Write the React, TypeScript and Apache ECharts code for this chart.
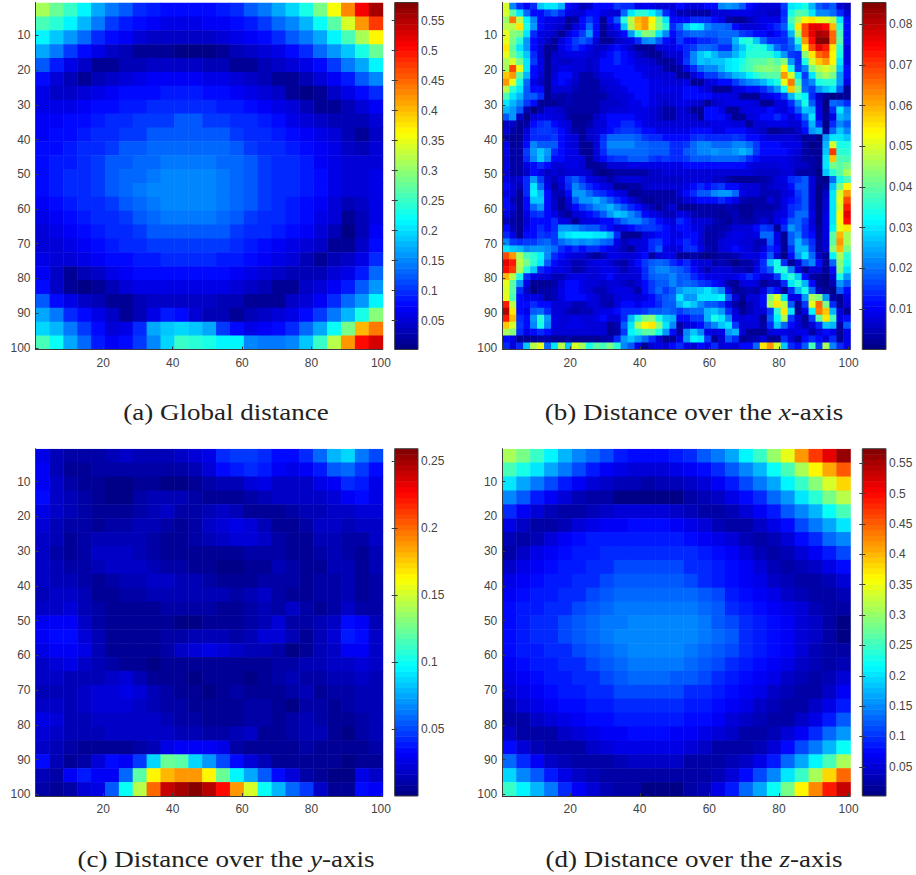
import React, { useEffect, useRef } from "react";
import * as echarts from "echarts";

const xTicks = [20,40,60,80,100];
const yTicks = [10,20,30,40,50,60,70,80,90,100];

// (a) global distance, unit 0.01, rows top to bottom
const globalDistance = [
[31,28,25,21,17,14,12,10,9,8,8,8,8,9,10,12,14,17,20,23,29,36,43,51,56],
[26,24,21,18,14,11,9,8,7,6,6,6,7,7,8,9,11,13,15,18,22,27,34,42,48],
[21,19,16,13,10,8,7,5,4,4,4,4,4,5,6,7,8,10,12,14,17,21,26,31,37],
[17,14,11,8,6,4,3,2,2,2,1,1,1,2,3,4,5,6,8,10,13,16,19,23,28],
[12,9,6,4,2,2,3,3,4,4,4,4,3,3,2,2,3,4,5,6,8,11,14,17,21],
[8,5,3,2,3,4,5,6,7,7,7,7,6,6,5,4,3,2,2,3,5,7,9,12,15],
[6,4,4,5,6,7,8,8,8,9,9,9,8,8,7,6,5,4,2,1,2,4,6,8,10],
[6,6,6,7,8,8,9,9,10,10,10,10,10,9,9,8,7,6,5,3,2,2,3,5,7],
[7,7,8,8,9,10,10,11,11,11,12,12,11,11,10,10,9,8,6,5,4,3,3,3,5],
[7,8,8,9,10,10,11,11,12,12,12,12,12,12,11,10,10,9,8,7,6,5,3,2,4],
[8,8,9,10,10,11,12,12,13,13,13,13,13,13,12,11,10,10,9,8,7,6,4,3,5],
[8,9,9,10,11,12,12,13,13,14,14,14,14,13,13,12,11,10,10,9,7,6,5,5,5],
[8,9,10,10,11,12,13,13,14,15,15,15,15,14,13,12,11,10,10,9,8,6,5,5,6],
[8,9,10,10,11,12,13,14,15,15,15,15,15,14,13,12,11,10,10,9,8,6,5,5,6],
[7,8,9,10,10,11,12,13,14,15,15,15,15,14,13,12,11,10,9,8,7,5,3,4,6],
[6,7,8,9,10,10,11,12,13,14,14,14,14,13,12,11,10,10,9,8,6,5,2,3,6],
[5,6,7,8,9,10,10,11,12,12,12,12,12,12,11,10,10,9,8,7,5,3,1,3,7],
[5,5,6,7,8,9,10,10,11,11,11,11,11,11,10,9,8,7,6,5,4,2,2,4,8],
[6,5,5,6,7,8,8,9,9,10,10,10,10,9,9,8,7,6,5,3,2,3,4,6,10],
[7,4,2,3,4,6,7,8,8,8,8,8,8,8,7,6,5,4,3,3,3,5,6,9,13],
[8,4,2,1,2,3,5,6,6,6,6,6,6,6,5,4,3,2,2,4,5,7,9,12,16],
[12,8,6,4,3,2,2,3,4,4,4,4,4,3,3,2,2,2,4,5,7,10,13,16,21],
[17,14,10,8,6,4,2,3,6,9,8,5,3,3,2,3,4,5,6,8,11,14,18,23,30],
[20,18,14,11,8,5,6,10,17,19,20,19,17,11,8,6,7,8,10,13,17,22,29,40,44],
[26,22,17,13,9,7,8,11,15,20,25,24,23,21,21,15,14,14,15,19,25,32,42,50,53],
];

// (b) distance over the x-axis, unit 0.001, one block per image quadrant
const xDistanceTopLeft = [
[50,22,14,10,14,28,30,30,26,11,9,5,6,11,11,12,16,14,14,9,10,9,8,7,7],
[50,40,30,20,12,11,16,18,14,9,8,8,12,12,9,8,8,20,30,35,35,32,26,14,9],
[45,65,48,32,22,11,9,9,8,2,3,12,16,11,2,11,18,36,48,60,62,54,42,30,12],
[48,48,56,34,24,11,9,8,6,2,8,12,20,11,2,8,11,28,46,58,62,52,44,36,14],
[52,44,42,30,14,9,8,6,2,7,11,16,24,11,2,6,8,12,24,36,44,42,30,22,11],
[52,42,36,24,11,9,6,2,8,12,16,18,16,8,2,2,6,7,9,14,22,24,18,11,9],
[55,40,30,24,11,8,2,2,9,12,14,12,9,6,6,9,12,9,6,2,2,2,8,9,9],
[52,42,36,28,14,8,2,6,8,9,9,9,7,6,9,12,14,12,9,6,3,2,2,6,8],
[46,50,42,30,16,9,2,7,6,6,7,7,6,7,11,12,14,12,10,8,7,6,4,2,3],
[46,68,52,30,12,9,2,6,9,9,8,7,6,7,11,11,12,12,11,9,9,8,7,4,2],
[58,62,40,26,11,8,2,8,11,11,7,4,4,6,9,9,11,12,11,11,9,8,8,7,7],
[62,52,34,20,9,6,2,9,11,9,6,4,4,4,8,8,9,11,11,11,11,9,9,8,8],
[48,36,30,18,12,11,2,8,8,7,5,4,4,4,6,7,8,9,11,12,11,9,9,9,9],
[38,30,26,18,18,14,2,5,4,5,4,4,4,4,4,6,7,8,9,11,11,9,8,8,8],
[30,26,22,16,11,2,2,2,4,5,4,3,4,4,6,6,6,7,9,9,11,9,7,6,7],
[26,24,18,5,1,4,7,8,6,4,4,4,4,4,6,7,7,8,9,9,9,8,6,4,4],
[18,24,6,1,8,9,9,8,7,4,2,2,2,6,9,11,11,11,11,9,9,8,6,4,4],
[6,6,2,3,11,14,16,12,9,7,2,2,4,7,8,11,12,14,14,11,9,8,7,7,7],
[7,4,2,8,14,16,16,14,11,8,3,2,6,7,9,11,14,16,16,14,12,11,9,9,9],
[4,2,2,9,14,14,14,16,12,9,7,2,6,8,14,20,20,20,20,18,16,14,14,12,11],
[9,2,3,12,22,18,18,18,12,9,8,2,2,8,16,22,22,22,22,20,20,18,18,18,14],
[9,4,3,16,24,28,24,14,12,9,9,2,2,8,14,20,20,20,20,20,20,18,18,18,14],
[8,3,3,14,22,28,22,11,11,9,9,7,2,7,11,14,16,16,18,18,18,16,14,16,14],
[9,3,3,9,12,14,11,7,8,9,9,8,2,2,3,7,8,8,9,9,9,9,9,9,9],
[8,3,3,6,12,9,6,7,6,8,8,7,6,2,1,2,4,4,4,4,4,6,6,7,7],
];
const xDistanceTopRight = [
[11,9,8,9,11,12,22,24,22,18,12,9,8,7,7,16,30,32,34,26,18,16,18,8,5],
[5,5,3,3,3,7,8,8,9,9,9,8,7,6,6,14,34,40,38,30,22,22,20,14,8],
[11,12,14,14,14,12,9,4,2,2,5,8,9,9,9,16,38,46,54,56,52,50,48,30,11],
[20,28,32,30,22,20,20,18,11,7,7,8,9,11,14,18,34,56,68,76,76,74,60,36,12],
[16,18,20,20,18,18,20,20,20,16,14,12,11,9,11,14,26,46,68,76,82,80,66,38,12],
[16,12,12,14,14,16,18,18,26,34,36,28,20,14,14,14,20,36,62,74,84,84,66,40,11],
[12,14,16,20,20,18,14,14,24,28,34,36,34,28,20,16,18,26,54,68,76,72,56,36,9],
[8,14,22,28,30,26,22,22,26,30,36,36,36,36,30,24,16,14,44,56,66,68,54,34,9],
[7,16,22,28,26,28,28,30,32,34,38,40,40,42,40,44,24,14,34,50,58,62,54,30,9],
[3,9,14,20,22,22,26,30,32,36,38,42,44,44,42,54,34,16,22,42,48,50,48,28,11],
[2,2,7,12,16,16,20,22,26,28,32,36,38,40,40,62,50,30,16,30,42,46,42,24,11],
[8,9,2,2,8,9,11,12,16,20,22,24,26,30,34,52,64,38,18,22,34,36,36,24,9],
[9,12,12,9,7,2,2,2,7,9,11,12,14,18,24,34,58,44,20,16,24,28,30,18,2],
[9,11,11,11,11,9,9,9,8,2,2,2,8,9,11,16,26,36,32,14,6,2,1,2,2],
[9,9,7,6,2,6,7,9,9,9,9,8,2,2,7,9,14,24,34,18,8,1,20,18,14],
[8,6,2,2,11,12,9,2,2,8,9,9,9,11,9,7,11,18,28,26,9,1,14,30,22],
[7,7,6,2,11,12,11,7,2,2,7,9,11,12,14,12,8,12,20,30,9,2,9,26,24],
[8,8,7,7,8,9,9,9,8,7,2,7,8,9,9,9,7,8,14,26,14,1,14,22,18],
[9,9,11,11,11,9,9,11,11,11,9,7,6,2,2,3,4,6,11,24,26,2,20,28,22],
[11,11,14,16,14,14,14,14,16,14,12,11,9,8,7,7,8,6,2,3,1,24,30,30,28],
[14,16,20,22,22,20,20,20,22,22,20,16,12,11,11,9,9,9,4,1,2,26,50,34,34],
[14,18,20,22,22,24,22,22,24,26,24,16,12,11,12,11,9,8,4,2,2,28,70,36,36],
[14,16,18,18,18,20,20,20,20,18,14,11,9,9,9,9,8,6,4,4,2,30,58,38,38],
[9,11,11,12,12,12,12,12,12,11,9,8,7,7,8,9,8,6,6,4,2,30,42,40,42],
[7,8,8,8,8,7,7,7,7,7,7,6,6,6,6,8,7,4,4,3,1,28,36,40,46],
];
const xDistanceBottomLeft = [
[9,6,8,14,24,16,8,5,9,16,18,14,9,8,6,4,6,8,8,7,6,6,6,6,6],
[11,8,5,14,30,20,9,2,7,14,22,18,14,11,9,7,2,2,3,4,6,7,7,8,7],
[9,7,2,14,32,26,11,5,5,11,24,24,20,16,14,12,9,7,2,2,3,4,4,4,4],
[11,5,2,12,28,28,12,6,2,8,18,24,24,26,22,18,14,11,8,5,2,2,3,4,4],
[12,7,2,11,20,24,12,6,2,6,11,16,18,22,24,26,22,18,14,11,8,5,2,5,8],
[9,5,2,9,14,16,12,9,5,2,8,9,11,14,18,24,28,26,22,18,12,9,7,5,5],
[5,3,2,8,11,12,11,14,9,7,2,8,9,9,11,12,16,20,22,22,18,16,11,9,8],
[11,5,2,9,12,14,12,14,24,24,22,20,18,18,14,11,8,9,11,14,16,16,14,11,9],
[14,9,2,11,12,16,14,16,28,30,32,32,32,30,30,26,14,2,2,2,7,9,11,11,9],
[22,16,14,16,16,18,20,16,20,22,24,22,24,22,20,18,9,5,8,8,9,14,16,12,9],
[30,28,26,22,24,24,22,20,14,12,14,12,14,14,12,9,7,5,2,7,9,14,18,9,8],
[68,62,46,38,36,32,22,14,11,9,7,7,5,2,5,9,9,7,7,9,11,4,8,9,9],
[76,72,48,42,36,30,18,12,9,8,5,5,8,9,9,7,5,3,8,11,16,18,20,18,14],
[74,70,46,36,28,14,11,9,9,7,3,5,7,7,9,9,8,5,7,9,14,20,22,22,20],
[60,48,34,14,9,8,7,5,5,8,9,9,8,7,9,11,8,7,7,8,14,18,20,20,22],
[52,40,24,9,2,2,2,4,7,11,11,9,8,7,6,8,8,6,5,7,12,16,18,18,22],
[50,40,14,6,1,3,3,5,9,12,11,9,8,5,5,8,9,9,7,3,11,16,20,16,18],
[52,38,11,9,9,7,3,5,9,11,11,11,9,8,5,5,8,9,9,8,9,12,16,18,20],
[72,48,11,11,14,12,11,7,8,7,5,5,7,7,5,3,8,11,11,9,11,12,14,18,18],
[80,56,12,9,18,20,14,8,7,5,3,5,5,7,9,9,11,14,14,14,16,18,18,20,18],
[72,60,14,11,24,36,24,9,8,8,9,8,7,9,11,8,8,14,26,36,42,44,34,28,26],
[58,50,16,12,22,34,22,9,8,9,9,9,8,8,7,2,5,18,30,46,54,56,44,30,22],
[46,44,14,9,11,14,11,8,7,7,7,7,8,7,7,2,3,16,32,36,40,40,34,24,11],
[12,9,2,2,2,3,3,2,2,3,2,2,2,2,3,5,14,24,28,24,20,14,8,2,2],
[14,7,14,28,48,52,20,30,48,28,50,46,34,40,38,42,36,22,18,9,2,8,9,8,11],
];
const xDistanceBottomRight = [
[6,7,8,8,7,6,6,4,2,2,2,2,3,5,7,9,14,16,18,8,2,1,20,34,38],
[7,9,12,14,12,14,16,12,11,7,7,7,5,6,7,8,12,18,18,8,1,4,28,42,54],
[8,11,14,18,18,22,24,24,20,9,8,7,5,5,5,7,9,16,18,7,1,6,30,50,62],
[5,8,9,11,12,12,14,12,9,5,3,3,3,7,5,9,11,14,18,7,1,8,30,52,68],
[2,2,2,3,3,4,4,5,3,2,2,3,3,4,5,9,14,16,18,7,1,8,30,50,72],
[9,8,5,3,3,4,2,4,5,2,2,5,5,5,7,9,14,20,20,9,1,9,30,54,76],
[14,11,8,7,7,5,3,2,5,3,3,5,7,5,9,12,18,20,16,8,1,9,30,54,74],
[11,12,9,7,5,3,3,5,8,8,7,11,16,14,2,14,24,20,14,9,2,9,32,52,55],
[9,11,11,8,3,3,5,7,9,9,8,9,20,20,9,2,18,22,14,11,2,9,40,60,46],
[12,14,12,8,3,3,7,9,9,8,7,5,5,18,9,2,18,26,20,14,4,8,40,62,46],
[9,14,14,9,5,3,7,9,11,9,7,5,8,14,12,2,14,26,26,16,4,7,44,60,42],
[2,2,3,2,1,2,3,3,5,8,9,7,11,18,8,1,12,24,30,20,6,2,32,46,36],
[11,14,9,8,7,3,5,3,1,3,3,7,14,28,34,14,2,8,18,22,12,2,20,44,34],
[18,16,11,8,5,7,8,8,5,5,3,9,14,18,34,36,22,9,2,8,8,2,12,42,30],
[18,18,14,11,9,9,9,8,9,11,14,11,8,8,16,30,36,28,12,4,2,1,8,34,24],
[18,20,18,16,14,11,9,4,2,8,9,8,2,5,5,14,30,36,26,12,2,1,5,24,18],
[24,26,26,28,30,26,22,9,2,3,5,3,7,16,11,2,14,26,34,20,5,2,1,18,12],
[30,24,24,30,30,30,32,18,7,2,7,8,11,44,50,30,9,9,24,46,44,24,4,2,9],
[26,30,28,22,18,18,16,9,3,1,5,8,11,46,56,48,18,2,16,52,66,42,14,2,8],
[16,18,20,20,26,28,24,14,8,2,5,8,8,16,36,56,30,2,9,32,64,58,26,8,2],
[11,12,16,16,26,34,30,22,9,8,9,8,2,18,32,46,16,8,2,16,40,56,38,9,11],
[4,8,9,11,18,22,28,30,16,8,7,7,4,14,28,20,11,7,4,8,14,28,26,4,18],
[3,22,28,22,9,8,9,24,26,8,2,2,2,8,9,9,8,9,9,4,8,11,9,2,9],
[9,24,32,30,16,2,7,18,14,2,3,5,7,2,2,14,8,2,11,14,11,7,14,2,9],
[14,9,8,11,9,14,8,9,7,11,12,20,55,62,50,28,14,11,18,38,16,46,22,14,9],
];
const xDistance = [
  ...xDistanceTopLeft.map((row, i) => [...row, ...xDistanceTopRight[i]]),
  ...xDistanceBottomLeft.map((row, i) => [...row, ...xDistanceBottomRight[i]]),
];

// (c) distance over the y-axis, unit 0.001
const yDistance = [
[25,15,12,10,12,15,18,15,15,15,18,22,28,42,48,46,42,35,35,42,58,80,85,62,50],
[30,15,8,6,10,12,12,10,10,10,12,16,22,35,40,42,38,30,28,32,40,55,60,48,35],
[32,18,10,8,6,4,4,8,8,4,4,8,12,14,14,22,25,20,18,20,25,32,42,40,28],
[35,18,14,10,8,4,4,12,14,16,14,10,8,5,5,10,15,18,18,18,18,22,32,35,25],
[28,18,15,12,8,5,8,12,16,18,10,10,16,18,15,8,5,5,10,15,15,18,20,24,22],
[22,16,12,10,8,10,12,14,14,10,6,10,18,24,28,24,15,8,6,12,18,18,14,18,20],
[20,14,8,10,14,16,16,14,10,6,6,10,14,20,24,22,18,10,6,8,14,16,10,12,18],
[18,12,8,10,18,20,18,15,10,8,8,6,6,8,8,12,12,10,8,5,10,14,10,8,16],
[18,14,10,10,14,20,20,18,15,12,12,8,5,4,4,6,8,14,10,8,6,14,14,8,14],
[18,16,14,12,8,12,14,16,18,18,16,14,10,8,6,8,12,12,10,8,10,12,14,6,12],
[16,18,20,14,8,5,10,12,14,15,15,15,14,14,12,15,18,12,5,6,10,10,14,6,10],
[20,20,24,16,10,6,5,8,8,10,10,10,10,8,8,10,14,12,18,10,8,12,18,10,10],
[30,32,32,20,12,8,8,6,5,5,4,4,6,6,5,10,16,22,12,10,14,20,34,30,14],
[30,36,35,22,14,8,6,8,8,10,12,14,16,14,10,14,22,24,14,5,14,22,38,34,18],
[25,30,32,25,16,8,6,6,8,12,18,22,26,24,18,16,14,10,4,8,14,20,30,30,20],
[20,24,25,18,14,10,8,6,4,6,8,8,8,8,8,5,8,10,12,16,16,18,20,22,18],
[18,18,16,14,16,20,22,16,8,6,5,4,5,8,5,4,6,12,16,12,10,14,16,18,16],
[15,16,14,18,22,24,28,24,14,10,8,5,4,8,10,8,6,6,12,14,8,10,12,16,16],
[20,18,14,20,22,24,24,20,16,12,10,8,6,5,8,12,10,6,4,10,12,8,10,14,16],
[28,22,14,16,18,20,20,20,18,16,12,10,8,6,5,10,12,5,10,14,10,5,6,12,14],
[22,18,14,14,16,18,18,20,20,18,16,14,12,12,16,20,8,6,12,16,14,8,4,10,14],
[20,14,10,8,8,8,8,10,15,25,32,32,30,25,12,8,5,5,8,12,8,5,5,8,12],
[35,14,8,10,22,35,30,45,85,125,120,85,70,50,35,22,14,8,6,8,6,5,4,5,8],
[15,10,30,40,30,30,60,120,165,180,190,190,165,125,95,75,55,35,22,10,6,4,4,25,20],
[10,8,12,22,28,55,100,145,200,240,250,255,245,225,190,150,100,80,60,45,18,8,6,35,30],
];

// (d) distance over the z-axis, unit 0.01
const zDistance = [
[31,28,25,21,18,15,13,11,9,8,8,8,9,10,12,14,17,21,25,30,35,42,47,52,56],
[26,23,20,17,14,11,9,7,6,5,5,5,6,7,8,10,12,15,18,22,26,31,36,41,45],
[20,17,14,11,9,7,5,4,3,3,2,3,3,4,5,7,9,11,14,17,21,25,29,34,38],
[15,12,9,7,5,3,2,2,1,1,1,1,1,2,3,4,6,8,10,13,16,20,24,28,32],
[10,7,5,3,2,2,3,4,5,5,5,5,4,3,2,2,3,5,7,9,12,15,18,22,26],
[6,4,2,2,3,5,6,7,7,8,8,8,7,6,5,3,2,2,4,6,8,11,14,17,20],
[3,2,3,5,7,8,9,9,9,9,9,9,9,8,7,6,5,3,2,3,5,8,10,13,15],
[2,4,6,7,8,9,9,10,10,10,10,10,10,10,9,8,7,5,3,2,3,5,7,9,11],
[4,6,7,8,9,9,10,10,11,11,11,11,11,10,10,9,8,7,5,3,2,3,4,6,8],
[6,7,8,9,9,10,10,11,12,12,12,12,12,11,10,9,8,7,6,4,3,2,2,3,5],
[7,8,9,9,10,10,11,12,13,13,13,13,13,13,12,11,9,8,7,6,4,3,2,2,3],
[8,9,9,10,10,11,12,13,14,14,14,14,14,14,13,12,10,9,8,7,6,5,3,2,2],
[8,9,10,10,11,12,13,14,14,15,15,15,15,15,14,12,11,10,9,8,7,5,4,2,1],
[8,9,10,10,11,12,13,14,15,15,15,15,15,15,14,13,12,10,9,8,7,5,4,2,1],
[8,9,9,10,10,11,12,13,14,15,15,15,15,14,13,12,11,10,9,8,7,5,3,2,2],
[7,8,9,9,10,10,11,12,13,14,14,14,14,13,12,11,10,9,8,7,6,4,3,2,3],
[6,7,8,9,9,10,10,11,12,13,13,13,12,12,11,10,9,8,7,6,4,3,2,3,5],
[5,6,7,8,9,9,10,10,11,11,11,11,11,10,10,9,8,7,6,4,3,2,2,4,7],
[3,5,6,7,8,8,9,9,10,10,10,10,10,9,9,8,7,6,4,3,2,2,4,6,9],
[2,2,4,5,6,7,8,8,9,9,9,9,9,8,8,7,5,4,3,2,2,4,6,9,12],
[4,2,2,2,4,5,6,7,7,8,8,8,7,7,6,5,4,2,2,3,5,7,10,13,16],
[8,5,3,2,2,2,4,5,6,6,6,6,6,5,4,2,2,2,3,5,8,11,14,18,22],
[13,10,7,4,3,2,2,2,3,4,4,4,4,2,2,2,3,4,6,9,13,17,21,26,31],
[19,15,12,9,6,4,3,2,2,2,2,2,2,2,2,3,5,8,11,15,20,25,31,38,44],
[25,21,18,14,10,7,5,3,2,2,1,1,1,2,3,6,9,13,17,22,28,36,43,49,53],
];

const aBarTicks = [0.05,0.1,0.15,0.2,0.25,0.3,0.35,0.4,0.45,0.5,0.55];
const bBarTicks = [0.01,0.02,0.03,0.04,0.05,0.06,0.07,0.08];
const cBarTicks = [0.05,0.1,0.15,0.2,0.25];
const dBarTicks = [0.05,0.1,0.15,0.2,0.25,0.3,0.35,0.4,0.45,0.5,0.55];

const panels = [
  { rows: globalDistance, unit: 0.01, lo: 0.002, hi: 0.58, barTicks: aBarTicks, plotX: 35.5, plotW: 347.2, barX: 394.7, barW: 23.3, top: 2.5, h: 347, capX: 226, capY: 412, caption: "(a) Global distance" },
  { rows: xDistance, unit: 0.001, lo: 0.0001, hi: 0.0853, barTicks: bBarTicks, plotX: 502.3, plotW: 348, barX: 862.3, barW: 23.7, top: 2.5, h: 347, capX: 694, capY: 412, caption: "(b) Distance over the {i|x}-axis" },
  { rows: yDistance, unit: 0.001, lo: 0, hi: 0.259, barTicks: cBarTicks, plotX: 35.5, plotW: 347.2, barX: 394.7, barW: 23.3, top: 448.7, h: 347.3, capX: 226, capY: 859, caption: "(c) Distance over the {i|y}-axis" },
  { rows: zDistance, unit: 0.01, lo: 0.002, hi: 0.574, barTicks: dBarTicks, plotX: 502.3, plotW: 348, barX: 862.3, barW: 23.7, top: 448.7, h: 347.3, capX: 694, capY: 859, caption: "(d) Distance over the {i|z}-axis" },
];

const LEVELS = 64;
const INK = "#3a3a3a";
const LABEL = "#444444";

function jet(t: number): string {
  const idx = Math.max(0, Math.min(LEVELS - 1, Math.floor(t * LEVELS)));
  const v = (idx + 0.5) / LEVELS;
  const ch = (c: number) => Math.round(255 * Math.max(0, Math.min(1, 1.5 - Math.abs(4 * v - c))));
  return `rgb(${ch(3)},${ch(2)},${ch(1)})`;
}

function buildOption() {
  const grid: any[] = [], xAxis: any[] = [], yAxis: any[] = [], series: any[] = [], graphic: any[] = [];
  const labelStyle = { color: LABEL, fontSize: 12, fontFamily: "Liberation Sans" };
  panels.forEach((p) => {
    const g = grid.length;
    grid.push({ left: p.plotX, top: p.top, width: p.plotW, height: p.h, containLabel: false });
    xAxis.push({
      type: "value", gridIndex: g, min: 0.5, max: 100.5, z: 10, splitLine: { show: false },
      axisLine: { show: true, lineStyle: { color: INK } },
      axisTick: { show: true, inside: true, length: 3, customValues: xTicks, lineStyle: { color: INK } },
      axisLabel: { ...labelStyle, margin: 7, customValues: xTicks, hideOverlap: false, formatter: (v: number) => String(v) },
    });
    yAxis.push({
      type: "value", gridIndex: g, min: 0.5, max: 100.5, inverse: true, z: 10, splitLine: { show: false },
      axisLine: { show: true, lineStyle: { color: INK } },
      axisTick: { show: true, inside: true, length: 3, customValues: yTicks, lineStyle: { color: INK } },
      axisLabel: { ...labelStyle, margin: 5, customValues: yTicks, hideOverlap: false, formatter: (v: number) => String(v) },
    });
    const size = 100 / p.rows.length;
    const cells: number[][] = [];
    p.rows.forEach((row, r) => row.forEach((val, c) => cells.push([0.5 + (c + 0.5) * size, 0.5 + (r + 0.5) * size, val * p.unit])));
    series.push({
      type: "custom", coordinateSystem: "cartesian2d", xAxisIndex: xAxis.length - 1, yAxisIndex: yAxis.length - 1, silent: true, clip: true,
      encode: { x: 0, y: 1 }, data: cells,
      renderItem: (_: any, api: any) => {
        const x = api.value(0), y = api.value(1), v = api.value(2);
        const a = api.coord([x - size / 2, y - size / 2]), b = api.coord([x + size / 2, y + size / 2]);
        return { type: "rect", shape: { x: a[0], y: a[1], width: b[0] - a[0] + 0.5, height: b[1] - a[1] + 0.5 }, style: { fill: jet((v - p.lo) / (p.hi - p.lo)) } };
      },
    });

    const bg = grid.length;
    grid.push({ left: p.barX, top: p.top, width: p.barW, height: p.h, show: true, borderColor: INK, borderWidth: 1, z: 10, backgroundColor: "transparent" });
    xAxis.push({ type: "value", gridIndex: bg, min: 0, max: 1, show: false });
    const barY = { type: "value", gridIndex: bg, min: p.lo, max: p.hi, z: 10, splitLine: { show: false }, axisLine: { show: false } };
    yAxis.push({
      ...barY, position: "right",
      axisTick: { show: true, inside: true, length: 3, customValues: p.barTicks, lineStyle: { color: INK } },
      axisLabel: { ...labelStyle, margin: 3, customValues: p.barTicks, hideOverlap: false, formatter: (v: number) => String(v) },
    });
    const rightIdx = yAxis.length - 1;
    yAxis.push({
      ...barY, position: "left",
      axisTick: { show: true, inside: true, length: 3, customValues: p.barTicks, lineStyle: { color: INK } },
      axisLabel: { show: false },
    });
    const step = (p.hi - p.lo) / LEVELS;
    const levels = Array.from({ length: LEVELS }, (_, i) => [p.lo + i * step, i]);
    series.push({
      type: "custom", coordinateSystem: "cartesian2d", xAxisIndex: xAxis.length - 1, yAxisIndex: rightIdx, silent: true, clip: true,
      encode: { y: 0 }, data: levels,
      renderItem: (_: any, api: any) => {
        const v = api.value(0), i = api.value(1);
        const a = api.coord([0, v + step]), b = api.coord([1, v]);
        return { type: "rect", shape: { x: a[0], y: a[1], width: b[0] - a[0], height: b[1] - a[1] + 0.5 }, style: { fill: jet((i + 0.5) / LEVELS) } };
      },
    });

    graphic.push({
      type: "text", x: p.capX, y: p.capY, scaleX: 1.175,
      style: { text: p.caption, fill: "#222222", fontSize: 23, fontFamily: "Liberation Serif", align: "center", verticalAlign: "middle", rich: { i: { fontStyle: "italic", fontSize: 23, fontFamily: "Liberation Serif", fill: "#222222" } } },
    });
  });
  return { animation: false, backgroundColor: "#ffffff", grid, xAxis, yAxis, series, graphic };
}

export default function App() {
  const ref = useRef<HTMLDivElement>(null);
  useEffect(() => {
    document.body.style.margin = "0";
    const chart = echarts.init(ref.current!, undefined, { renderer: "svg" });
    chart.setOption(buildOption());
    return () => chart.dispose();
  }, []);
  return <div ref={ref} style={{ width: 916, height: 875 }} />;
}
